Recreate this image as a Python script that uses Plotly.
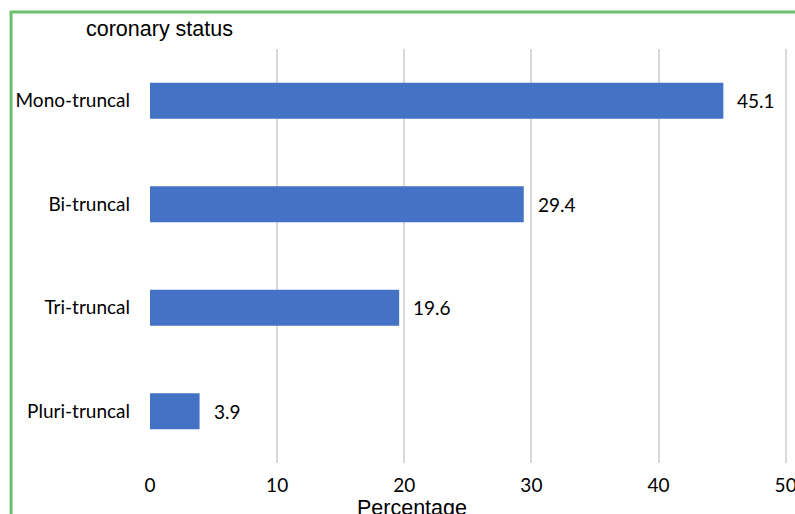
import plotly.graph_objects as go

categories = ["Mono-truncal", "Bi-truncal", "Tri-truncal", "Pluri-truncal"]
values = [45.1, 29.4, 19.6, 3.9]
x_ticks = [0, 10, 20, 30, 40, 50]

W, H = 795, 514
L, T, B = 150, 49, 51
XMAX = 50.5
unit = 636 / 50.0
pw = unit * XMAX
R = W - L - pw
ph = H - T - B

def px_x(p):
    return (p - L) / pw

def px_y(p):
    return (H - B - p) / ph

tick_font = dict(family="Lato, Carlito, Calibri, sans-serif", size=19, color="#000000")

fig = go.Figure()
fig.add_trace(go.Bar(
    x=values, y=categories, orientation="h",
    marker=dict(color="#4472C4", line=dict(width=0)),
    width=0.35, hoverinfo="skip",
))

for c, v in zip(categories, values):
    fig.add_annotation(x=v, y=c, xref="x", yref="y", text=f"{v}",
                       showarrow=False, xanchor="left", xshift=12,
                       font=tick_font)

fig.add_annotation(x=px_x(84), y=px_y(29), xref="paper", yref="paper",
                   text="coronary status", showarrow=False,
                   xanchor="left", yanchor="middle",
                   font=dict(family="Liberation Sans, Arial, sans-serif", size=21.5, color="#000000"))
fig.add_annotation(x=px_x(412), y=px_y(508), xref="paper", yref="paper",
                   text="Percentage", showarrow=False,
                   xanchor="center", yanchor="middle",
                   font=dict(family="Liberation Sans, Arial, sans-serif", size=21.5, color="#000000"))

fig.add_shape(type="rect", xref="paper", yref="paper",
              x0=px_x(11), x1=px_x(830), y0=px_y(540), y1=px_y(12),
              line=dict(color="#6CC070", width=3), fillcolor="rgba(0,0,0,0)",
              layer="above")

fig.update_layout(
    width=W, height=H,
    margin=dict(l=L, r=R, t=T, b=B, pad=0, autoexpand=False),
    paper_bgcolor="white", plot_bgcolor="white",
    showlegend=False,
    xaxis=dict(range=[0, XMAX], tickvals=x_ticks, showgrid=True,
               gridcolor="#D9D9D9", gridwidth=1.5, zeroline=False,
               showline=False, tickfont=tick_font, ticklabelstandoff=9,
               ticklabeloverflow="allow",
               automargin=False, fixedrange=True),
    yaxis=dict(categoryorder="array", categoryarray=categories[::-1],
               showgrid=False, zeroline=False, showline=False,
               tickfont=tick_font, ticklabelstandoff=19,
               automargin=False, fixedrange=True),
)

fig.write_html("out.html")
